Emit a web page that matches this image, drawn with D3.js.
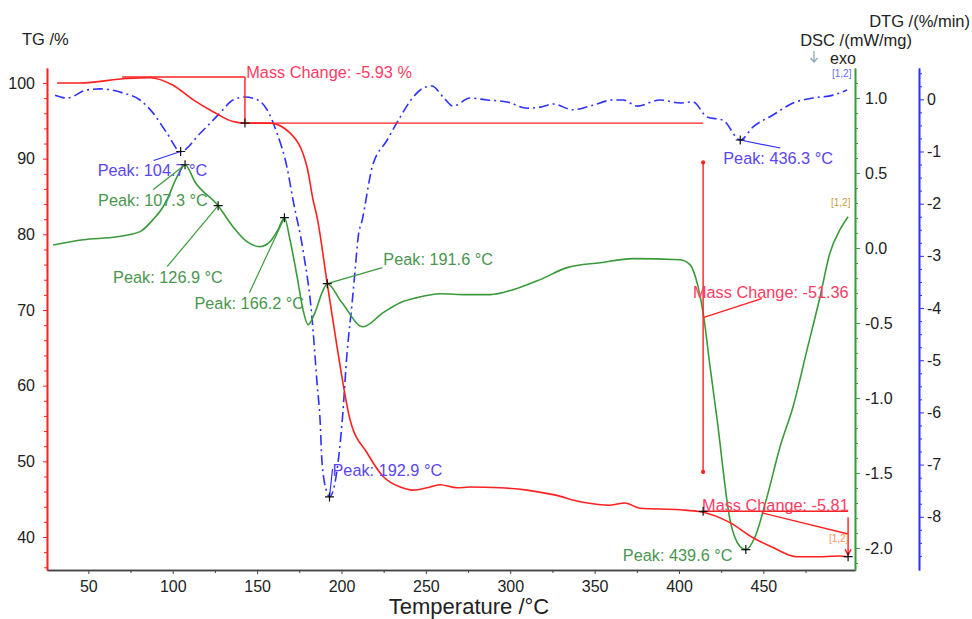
<!DOCTYPE html>
<html lang="en">
<head>
<meta charset="utf-8">
<title>TG / DSC / DTG</title>
<style>
  body { margin: 0; background: #fff; font-family: "Liberation Sans", Arial, sans-serif; }
  .tick text { font-size: 16px; fill: #222; font-family: "Liberation Sans", Arial, sans-serif; }
  .lbl { font-size: 16.3px; }
</style>
</head>
<body>
<svg id="chart" width="972" height="619"></svg>
<script src="https://d3js.org/d3.v7.min.js"></script>
<script>
// TG curve (%)
const tgTemp  = [31.5, 45.1, 72.9, 86.6, 100.2, 112, 123.9, 135.7, 142.8, 157.6, 169.5, 179.6, 183.2, 185.5, 191.5, 197.4, 205.1, 215.2, 224.7, 234.8, 242.5, 250.7, 258.4, 268.5, 276.2, 294, 310, 325.4, 343.1, 359.1, 368, 376.9, 400.6, 413.6, 430.2, 443.9, 455.7, 469.9, 485.3, 495.4, 499.6];
const tgValue = [100.0, 100.0, 100.6, 100.7, 99.7, 97.8, 96.2, 94.9, 94.7, 94.7, 93.4, 88.9, 84.5, 82.3, 73.6, 65.1, 55.5, 51.1, 48.0, 46.6, 46.2, 46.5, 46.9, 46.5, 46.6, 46.5, 46.2, 45.6, 44.6, 44.2, 44.5, 43.8, 43.6, 43.3, 41.9, 39.9, 38.6, 37.4, 37.4, 37.5, 37.4];

// DSC curve (mW/mg)
const dscTemp  = [29.1, 46.9, 67, 80.6, 88.3, 94.3, 96.6, 102.6, 107.3, 113.2, 126.9, 135.7, 144, 151.7, 157.6, 162.4, 166.2, 169.5, 173.7, 177.2, 180.2, 184.3, 188.5, 191.6, 200, 212.8, 224.7, 234.8, 244.8, 258.4, 274.5, 288.1, 301.7, 317.7, 333.7, 353.3, 372.8, 400.6, 406.5, 411.3, 414.3, 418.4, 422.6, 430.2, 436.2, 439.6, 445.1, 452.2, 459.9, 467.6, 475.9, 483.6, 489.5, 495.4, 500.2];
const dscValue = [0.02, 0.055, 0.075, 0.109, 0.189, 0.275, 0.322, 0.475, 0.555, 0.44, 0.282, 0.142, 0.042, 0.009, 0.042, 0.122, 0.202, 0.055, -0.191, -0.411, -0.511, -0.431, -0.298, -0.238, -0.36, -0.525, -0.431, -0.365, -0.331, -0.305, -0.311, -0.311, -0.278, -0.211, -0.131, -0.098, -0.071, -0.078, -0.111, -0.258, -0.431, -0.791, -1.145, -1.811, -1.991, -2.011, -1.925, -1.658, -1.325, -1.058, -0.678, -0.325, -0.031, 0.122, 0.208];

// DTG curve (%/min)
const dtgTemp  = [30.3, 37.4, 49.2, 56.9, 70.6, 80.6, 88.3, 96.6, 104.7, 116.3, 128.1, 135.7, 142.8, 150.5, 155.9, 161.8, 167.7, 171.3, 177.2, 182.5, 185.5, 187.3, 188.5, 191.5, 192.9, 197.4, 200.5, 203.3, 206.3, 208.1, 209.9, 212.3, 218.2, 227.1, 234.8, 242.5, 248.4, 253.6, 260.2, 266.1, 276.2, 286.3, 298.1, 310, 317.7, 325.4, 337.2, 347.3, 360.9, 366.9, 375.2, 388.8, 400.6, 408.3, 416.6, 426.1, 436.3, 443.9, 455.7, 467.6, 479.4, 491.3, 499.6];
const dtgValue = [0.08, 0.025, 0.18, 0.2, 0.12, -0.013, -0.26, -0.65, -1.0, -0.65, -0.26, -0.013, 0.044, -0.013, -0.2, -0.65, -1.3, -1.93, -2.89, -4.17, -5.43, -6.14, -6.97, -7.54, -7.62, -7.1, -6.14, -4.86, -3.9, -3.27, -2.64, -2.31, -1.3, -0.78, -0.34, 0.044, 0.216, 0.255, 0.044, -0.13, 0.025, -0.013, -0.05, -0.17, -0.15, -0.09, -0.2, -0.13, -0.013, -0.013, -0.13, -0.013, -0.07, -0.05, -0.34, -0.4, -0.78, -0.53, -0.3, -0.07, 0.025, 0.08, 0.18];

// tick labels
const xTicks   = [50, 100, 150, 200, 250, 300, 350, 400, 450];
const tgTicks  = [40, 50, 60, 70, 80, 90, 100];
const dscTicks = [-2.0, -1.5, -1.0, -0.5, 0.0, 0.5, 1.0];
const dtgTicks = [-8, -7, -6, -5, -4, -3, -2, -1, 0];

// peaks: series, temperature, value, label
const peakSeries = ["dtg", "dsc", "dsc", "dsc", "dsc", "dtg", "dtg", "dsc"];
const peakTemp   = [104.7, 107.3, 126.9, 166.2, 191.6, 192.9, 436.3, 439.6];
const peakValue  = [-1.0, 0.555, 0.282, 0.202, -0.238, -7.62, -0.78, -2.011];
const peakLabel  = ["Peak: 104.7 °C", "Peak: 107.3 °C", "Peak: 126.9 °C", "Peak: 166.2 °C", "Peak: 191.6 °C", "Peak: 192.9 °C", "Peak: 436.3 °C", "Peak: 439.6 °C"];
// text offset [dx,dy] and leader end [lx,ly] relative to marker, pixels
const peakLayout = [
  [-83, 25, -27, 9], [-87, 41, -32, 25], [-105, 77, -51, 61], [-90, 91, -35, 75],
  [56, -19, 55, -16], [3, -21, 3, -28], [-17, 24, 40, 8], [-123, 11, null, null]
];

// mass change labels
const massLabel = ["Mass Change: -5.93 %", "Mass Change: -51.36", "Mass Change: -5.81"];

const plotL = 47, plotR = 855, plotT = 68, plotB = 570, dtgX = 919;

const svg = d3.select("#chart");

const x = d3.scaleLinear().domain([25.5, 504.3]).range([plotL, plotR]);
const yTG = d3.scaleLinear().domain([35.64, 101.98]).range([plotB, plotT]);
const yDSC = d3.scaleLinear().domain([-2.147, 1.2]).range([plotB, plotT]);
const yDTG = d3.scaleLinear().domain([-9.02, 0.6]).range([plotB, plotT]);

const red = "#ff2020", green = "#3a9a3a", blue = "#3030ff";
const redText = "#ff3c64", greenText = "#4a9650", blueText = "#5a46ee";

// axes
function styleAxis(g, color) {
  g.select(".domain").attr("stroke", color).attr("stroke-width", 1.6);
  g.selectAll(".tick line").attr("stroke", color);
}

const xMinor = d3.range(75, 500, 50);
svg.append("g").attr("transform", `translate(0,${plotB})`)
  .call(d3.axisBottom(x).tickValues(xMinor).tickSize(3).tickFormat("").tickSizeOuter(0))
  .call(g => styleAxis(g, "#444"));
svg.append("g").attr("transform", `translate(0,${plotB})`)
  .call(d3.axisBottom(x).tickValues(xTicks).tickSize(4).tickPadding(7).tickSizeOuter(0).tickFormat(d => d))
  .call(g => styleAxis(g, "#444"));

const tgMinor = d3.range(36, 102, 2).filter(v => v % 10 !== 0);
svg.append("g").attr("transform", `translate(${plotL},0)`)
  .call(d3.axisLeft(yTG).tickValues(tgMinor).tickSize(3).tickFormat("").tickSizeOuter(0))
  .call(g => styleAxis(g, red));
svg.append("g").attr("transform", `translate(${plotL},0)`)
  .call(d3.axisLeft(yTG).tickValues(tgTicks).tickSize(4).tickPadding(8).tickSizeOuter(0))
  .call(g => styleAxis(g, red));

const dscMinor = d3.range(-21, 12).map(v => v / 10).filter(v => Math.abs(v * 2 - Math.round(v * 2)) > 0.01);
svg.append("g").attr("transform", `translate(${plotR},0)`)
  .call(d3.axisRight(yDSC).tickValues(dscMinor).tickSize(3).tickFormat("").tickSizeOuter(0))
  .call(g => styleAxis(g, green));
svg.append("g").attr("transform", `translate(${plotR},0)`)
  .call(d3.axisRight(yDSC).tickValues(dscTicks).tickSize(5).tickPadding(5).tickSizeOuter(0).tickFormat(d => d.toFixed(1)))
  .call(g => styleAxis(g, green));

const dtgMinor = d3.range(-36, 3).map(v => v / 4).filter(v => v % 1 !== 0);
svg.append("g").attr("transform", `translate(${dtgX},0)`)
  .call(d3.axisRight(yDTG).tickValues(dtgMinor).tickSize(3).tickFormat("").tickSizeOuter(0))
  .call(g => styleAxis(g, blue));
svg.append("g").attr("transform", `translate(${dtgX},0)`)
  .call(d3.axisRight(yDTG).tickValues(dtgTicks).tickSize(5).tickPadding(3).tickSizeOuter(0).tickFormat(d => String(d)))
  .call(g => styleAxis(g, blue));

// axis titles
svg.append("text").attr("x", 22).attr("y", 45).attr("font-size", 16.5).attr("fill", "#222").text("TG /%");
svg.append("text").attr("x", 970).attr("y", 27).attr("text-anchor", "end").attr("font-size", 16.5).attr("fill", "#222").text("DTG /(%/min)");
svg.append("text").attr("x", 912).attr("y", 46).attr("text-anchor", "end").attr("font-size", 16.5).attr("fill", "#222").text("DSC /(mW/mg)");
svg.append("path").attr("d", "M814,51 V62 M810.5,58 L814,62 L817.5,58")
  .attr("fill", "none").attr("stroke", "#8aa8b0").attr("stroke-width", 1.3);
svg.append("text").attr("x", 830).attr("y", 64).attr("font-size", 16).attr("fill", "#222").text("exo");
svg.append("text").attr("x", 469).attr("y", 614).attr("text-anchor", "middle")
  .attr("font-size", 22).attr("fill", "#222").text("Temperature /°C");

// curves
const tgData = tgTemp.map((t, i) => [t, tgValue[i]]);
const dscData = dscTemp.map((t, i) => [t, dscValue[i]]);
const dtgData = dtgTemp.map((t, i) => [t, dtgValue[i]]);

svg.append("path").datum(dtgData)
  .attr("d", d3.line().x(d => x(d[0])).y(d => yDTG(d[1])).curve(d3.curveMonotoneX))
  .attr("fill", "none").attr("stroke", blue).attr("stroke-width", 1.6).attr("stroke-dasharray", "10,4,2,4");
svg.append("path").datum(dscData)
  .attr("d", d3.line().x(d => x(d[0])).y(d => yDSC(d[1])).curve(d3.curveMonotoneX))
  .attr("fill", "none").attr("stroke", green).attr("stroke-width", 1.6);
svg.append("path").datum(tgData)
  .attr("d", d3.line().x(d => x(d[0])).y(d => yTG(d[1])).curve(d3.curveMonotoneX))
  .attr("fill", "none").attr("stroke", red).attr("stroke-width", 1.6);

// mass change step lines
const mc = svg.append("g").attr("stroke", red).attr("stroke-width", 1.4).attr("fill", "none");
function seg(t1, v1, t2, v2) {
  mc.append("line").attr("x1", x(t1)).attr("y1", yTG(v1)).attr("x2", x(t2)).attr("y2", yTG(v2));
}
seg(70, 100.8, 142.8, 100.8);
seg(142.8, 100.8, 142.8, 94.7);
seg(142.8, 94.7, 414.3, 94.7);
seg(414.3, 89.5, 414.3, 48.6);
seg(414.3, 69.0, 449, 71.5);
seg(414.3, 43.4, 500.2, 43.4);
seg(449, 43.2, 500.2, 40.4);
seg(500.2, 42.6, 500.2, 37.6);
mc.append("circle").attr("cx", x(414.3)).attr("cy", yTG(89.5)).attr("r", 1.4).attr("fill", red);
mc.append("circle").attr("cx", x(414.3)).attr("cy", yTG(48.6)).attr("r", 1.4).attr("fill", red);
mc.append("path")
  .attr("d", `M${x(500.2) - 3},${yTG(38.4)} L${x(500.2)},${yTG(37.6)} L${x(500.2) + 3},${yTG(38.4)}`);

svg.append("text").attr("class", "lbl").attr("x", x(143.6)).attr("y", yTG(100.7)).attr("fill", redText).text(massLabel[0]);
svg.append("text").attr("class", "lbl").attr("x", x(408.3)).attr("y", yTG(71.6)).attr("fill", redText).text(massLabel[1]);
svg.append("text").attr("class", "lbl").attr("x", x(413.7)).attr("y", yTG(43.4)).attr("fill", redText).text(massLabel[2]);

// markers
function cross(px, py) {
  svg.append("path").attr("d", `M${px - 4.5},${py} H${px + 4.5} M${px},${py - 4.5} V${py + 4.5}`)
    .attr("stroke", "#111").attr("stroke-width", 1.2);
}
cross(x(142.8), yTG(94.7));
cross(x(414.3), yTG(43.4));
cross(x(500.2), yTG(37.4));

// peak annotations
peakTemp.forEach((t, i) => {
  const isDsc = peakSeries[i] === "dsc";
  const px = x(t), py = isDsc ? yDSC(peakValue[i]) : yDTG(peakValue[i]);
  const col = isDsc ? green : blue;
  const L = peakLayout[i];
  if (L[2] !== null) {
    svg.append("line").attr("x1", px).attr("y1", py).attr("x2", px + L[2]).attr("y2", py + L[3])
      .attr("stroke", col).attr("stroke-width", 1.2);
  }
  svg.append("text").attr("class", "lbl").attr("x", px + L[0]).attr("y", py + L[1])
    .attr("fill", isDsc ? greenText : blueText).text(peakLabel[i]);
  cross(px, py);
});

// curve end markers
svg.append("text").attr("x", 832).attr("y", 77).attr("font-size", 10).attr("fill", "#6a6aff").text("[1,2]");
svg.append("text").attr("x", 831).attr("y", 206).attr("font-size", 10).attr("fill", "#c8a040").text("[1,2]");
svg.append("text").attr("x", 829).attr("y", 542).attr("font-size", 10).attr("fill", "#ff9060").text("[1,2]");
</script>
</body>
</html>
